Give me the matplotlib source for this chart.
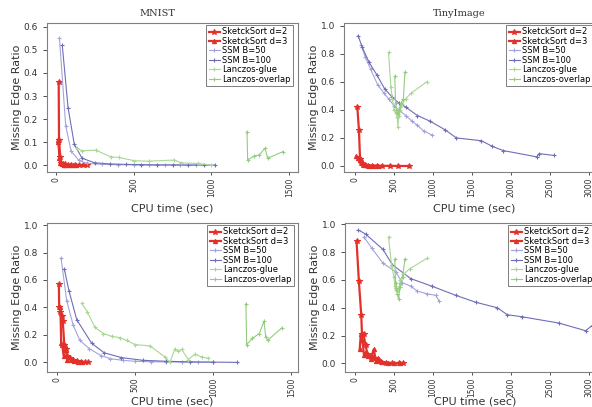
import matplotlib
matplotlib.use("Agg")
import matplotlib.pyplot as plt

# ---- MNIST, first run (top left) ----
mn1_ss2_x = [20, 22, 30, 35, 45, 60, 80, 100, 125, 150, 175, 200]
mn1_ss2_y = [0.36, 0.11, 0.035, 0.01, 0.005, 0.003, 0.002, 0.001, 0.001, 0.0, 0.0, 0.0]
mn1_ss3_x = [15, 18, 25, 30, 40, 55, 70, 90, 110, 130]
mn1_ss3_y = [0.11, 0.10, 0.03, 0.008, 0.004, 0.002, 0.001, 0.0, 0.0, 0.0]
mn1_b50_x = [25, 65, 100, 150, 200, 300, 400, 500, 600, 700, 800, 900]
mn1_b50_y = [0.55, 0.17, 0.06, 0.02, 0.008, 0.003, 0.002, 0.001, 0.0, 0.0, 0.0, 0.0]
mn1_b100_x = [43, 80, 120, 170, 250, 350, 450, 550, 650, 750, 850, 950, 1020]
mn1_b100_y = [0.52, 0.25, 0.09, 0.03, 0.01, 0.005, 0.003, 0.002, 0.001, 0.001, 0.0, 0.0, 0.0]
mn1_glue_x = [139, 171, 257, 354, 407, 504, 600, 761, 804, 911, 1000]
mn1_glue_y = [0.073, 0.062, 0.065, 0.036, 0.033, 0.019, 0.017, 0.022, 0.01, 0.007, 0.0]
mn1_ovl_x = [1228, 1232, 1275, 1307, 1343, 1361, 1457]
mn1_ovl_y = [0.145, 0.022, 0.04, 0.044, 0.073, 0.03, 0.058]

# ---- TinyImage, first run (top right) ----
ti1_ss2_x = [30, 50, 65, 80, 100, 130, 170, 220, 280, 350, 450, 550, 690]
ti1_ss2_y = [0.42, 0.26, 0.05, 0.02, 0.01, 0.005, 0.003, 0.002, 0.002, 0.001, 0.001, 0.0, 0.0]
ti1_ss3_x = [18, 40, 60, 75, 90, 110, 140, 180, 230, 300]
ti1_ss3_y = [0.07, 0.06, 0.04, 0.05, 0.02, 0.01, 0.005, 0.002, 0.001, 0.0]
ti1_b50_x = [80, 130, 200, 290, 370, 430, 500, 560, 650, 730, 800, 880, 990]
ti1_b50_y = [0.86, 0.78, 0.69, 0.58, 0.52, 0.48, 0.43, 0.40, 0.36, 0.32, 0.29, 0.25, 0.22]
ti1_b100_x = [40, 90, 180, 280, 380, 480, 560, 650, 800, 960, 1150, 1300, 1620, 1760, 1900, 2330, 2360, 2550]
ti1_b100_y = [0.93, 0.85, 0.74, 0.65, 0.55, 0.49, 0.45, 0.42, 0.36, 0.32, 0.26, 0.20, 0.18, 0.14, 0.11, 0.065, 0.088, 0.075]
ti1_glue_x = [430, 460, 480, 500, 520, 540, 550, 560, 580, 600, 650, 720, 920]
ti1_glue_y = [0.81, 0.56, 0.48, 0.40, 0.38, 0.35, 0.28, 0.36, 0.40, 0.44, 0.48, 0.52, 0.60]
ti1_ovl_x = [510, 520, 530, 545, 560, 575, 590, 620, 640]
ti1_ovl_y = [0.64, 0.45, 0.40, 0.37, 0.39, 0.42, 0.45, 0.48, 0.67]

# ---- MNIST, second run (bottom left) ----
mn2_ss2_x = [10, 12, 20, 28, 35, 45, 55, 65, 80, 100, 125, 150, 175, 195]
mn2_ss2_y = [0.57, 0.40, 0.37, 0.34, 0.30, 0.13, 0.10, 0.05, 0.03, 0.02, 0.01, 0.005, 0.002, 0.0]
mn2_ss3_x = [20, 25, 32, 40, 48, 55, 65, 75, 90, 110, 130, 160]
mn2_ss3_y = [0.40, 0.14, 0.13, 0.05, 0.13, 0.09, 0.02, 0.04, 0.02, 0.01, 0.005, 0.0]
mn2_b50_x = [24, 60, 102, 145, 205, 280, 340, 420, 500, 600, 700, 800, 900, 1000]
mn2_b50_y = [0.76, 0.45, 0.27, 0.16, 0.10, 0.05, 0.027, 0.015, 0.008, 0.005, 0.003, 0.002, 0.001, 0.0]
mn2_b100_x = [45, 75, 125, 220, 300, 410, 550, 700, 850, 1000, 1150]
mn2_b100_y = [0.68, 0.52, 0.31, 0.14, 0.07, 0.035, 0.015, 0.008, 0.004, 0.002, 0.0]
mn2_glue_x = [156, 192, 241, 295, 348, 402, 444, 498, 594, 690, 722, 754, 775, 797, 840, 882, 925, 968]
mn2_glue_y = [0.43, 0.37, 0.255, 0.21, 0.19, 0.18, 0.16, 0.13, 0.12, 0.04, 0.0, 0.10, 0.08, 0.095, 0.02, 0.06, 0.04, 0.03]
mn2_ovl_x = [1209, 1214, 1250, 1295, 1325, 1336, 1348, 1438]
mn2_ovl_y = [0.425, 0.13, 0.175, 0.21, 0.30, 0.185, 0.16, 0.25]

# ---- TinyImage, second run (bottom right) ----
ti2_ss2_x = [20, 50, 80, 90, 110, 135, 160, 200, 240, 280, 330, 400, 480, 560, 620]
ti2_ss2_y = [0.88, 0.59, 0.35, 0.21, 0.21, 0.13, 0.07, 0.05, 0.04, 0.02, 0.01, 0.005, 0.003, 0.002, 0.0]
ti2_ss3_x = [60, 75, 95, 115, 140, 170, 200, 240, 270, 300, 350, 420, 500, 580]
ti2_ss3_y = [0.10, 0.21, 0.17, 0.06, 0.08, 0.05, 0.03, 0.10, 0.02, 0.04, 0.01, 0.0, 0.0, 0.005]
ti2_b50_x = [115, 214, 359, 521, 607, 714, 799, 927, 1034, 1077]
ti2_b50_y = [0.91, 0.83, 0.72, 0.66, 0.58, 0.556, 0.52, 0.50, 0.49, 0.45]
ti2_b100_x = [43, 137, 359, 479, 714, 983, 1290, 1547, 1825, 1953, 2145, 2615, 2957, 3034]
ti2_b100_y = [0.96, 0.93, 0.82, 0.71, 0.61, 0.556, 0.49, 0.44, 0.40, 0.35, 0.335, 0.29, 0.235, 0.27]
ti2_glue_x = [430, 470, 500, 510, 520, 535, 550, 565, 580, 620, 700, 920]
ti2_glue_y = [0.91, 0.70, 0.62, 0.56, 0.53, 0.52, 0.53, 0.55, 0.60, 0.64, 0.68, 0.755]
ti2_ovl_x = [510, 520, 530, 545, 560, 575, 590, 610, 640]
ti2_ovl_y = [0.75, 0.58, 0.54, 0.50, 0.46, 0.55, 0.58, 0.62, 0.75]

LABELS = ["SketckSort d=2", "SketckSort d=3", "SSM B=50", "SSM B=100",
          "Lanczos-glue", "Lanczos-overlap"]
RED = "#e2302a"
STYLES = [
    dict(color=RED, lw=1.6, marker="*", ms=4),
    dict(color=RED, lw=1.6, marker="^", ms=3),
    dict(color="#a4a4dc", lw=0.8, marker="+", ms=3),
    dict(color="#6e6eb8", lw=0.8, marker="+", ms=3),
    dict(color="#a8d894", lw=0.8, marker="+", ms=3),
    dict(color="#94cc80", lw=0.8, marker="+", ms=3),
]

W, H = 592, 407
fig = plt.figure(figsize=(W / 100, H / 100), dpi=100)
GRAY = "#808080"
TXT = "#333333"


def px_axes(left, top, right, bottom):
    return fig.add_axes([left / W, 1 - bottom / H, (right - left) / W, (bottom - top) / H])


panels = [
    # (box px, xlim, ylim, yticks, xticks, series, legend anchor px, xlabel y px)
    ((47, 23, 298, 172), (-55, 1555), (-0.03, 0.617), [0, 0.1, 0.2, 0.3, 0.4, 0.5, 0.6],
     [0, 500, 1000, 1500],
     [(mn1_ss2_x, mn1_ss2_y), (mn1_ss3_x, mn1_ss3_y), (mn1_b50_x, mn1_b50_y),
      (mn1_b100_x, mn1_b100_y), (mn1_glue_x, mn1_glue_y), (mn1_ovl_x, mn1_ovl_y)],
     (206, 25), 209),
    ((344, 23, 605, 172), (-141, 3205), (-0.043, 1.02), [0, 0.2, 0.4, 0.6, 0.8, 1.0],
     [0, 500, 1000, 1500, 2000, 2500, 3000],
     [(ti1_ss2_x, ti1_ss2_y), (ti1_ss3_x, ti1_ss3_y), (ti1_b50_x, ti1_b50_y),
      (ti1_b100_x, ti1_b100_y), (ti1_glue_x, ti1_glue_y), (ti1_ovl_x, ti1_ovl_y)],
     (506, 25), 209),
    ((47, 223, 298, 372), (-66, 1543), (-0.07, 1.015), [0, 0.2, 0.4, 0.6, 0.8, 1.0],
     [0, 500, 1000, 1500],
     [(mn2_ss2_x, mn2_ss2_y), (mn2_ss3_x, mn2_ss3_y), (mn2_b50_x, mn2_b50_y),
      (mn2_b100_x, mn2_b100_y), (mn2_glue_x, mn2_glue_y), (mn2_ovl_x, mn2_ovl_y)],
     (207, 225), 401),
    ((345, 223, 605, 372), (-128, 3205), (-0.062, 1.01), [0, 0.2, 0.4, 0.6, 0.8, 1.0],
     [0, 500, 1000, 1500, 2000, 2500, 3000],
     [(ti2_ss2_x, ti2_ss2_y), (ti2_ss3_x, ti2_ss3_y), (ti2_b50_x, ti2_b50_y),
      (ti2_b100_x, ti2_b100_y), (ti2_glue_x, ti2_glue_y), (ti2_ovl_x, ti2_ovl_y)],
     (508, 225), 401),
]

for box, xlim, ylim, yticks, xticks, series, leg_at, xlab_y in panels:
    ax = px_axes(*box)
    for (xs, ys), label, st in zip(series, LABELS, STYLES):
        ax.plot(xs, ys, label=label, mew=0.8, **st)
    ax.set_xlim(*xlim)
    ax.set_ylim(*ylim)
    ax.set_xticks(xticks)
    ax.set_yticks(yticks)
    ax.set_yticklabels([f"{v:.1f}" for v in yticks])
    ax.tick_params(axis="x", labelrotation=90, labelsize=5.5, colors=TXT, length=2.5,
                   width=0.6, pad=1.5)
    ax.tick_params(axis="y", labelsize=6.5, colors=TXT, length=3, width=0.6)
    for sp in ax.spines.values():
        sp.set_color(GRAY)
        sp.set_linewidth(0.8)
    ax.set_ylabel("Missing Edge Ratio", fontsize=8, color=TXT, labelpad=1)
    ax.set_xlabel("CPU time (sec)", fontsize=8, color=TXT, va="center")
    ax.xaxis.set_label_coords(0.5, (box[3] - xlab_y) / (box[3] - box[1]))
    leg = ax.legend(loc="upper left", bbox_to_anchor=(leg_at[0] / W, 1 - leg_at[1] / H),
                    bbox_transform=fig.transFigure, fontsize=6, frameon=True, fancybox=False,
                    handlelength=1.4, handletextpad=0.2, borderpad=0.3, labelspacing=0.05,
                    borderaxespad=0)
    leg.get_frame().set_edgecolor("#444444")
    leg.get_frame().set_linewidth(0.6)

fig.text(157 / W, 1 - 14 / H, "MNIST", ha="center", va="center", fontsize=7,
         family="DejaVu Serif", color=TXT)
fig.text(459 / W, 1 - 14 / H, "TinyImage", ha="center", va="center", fontsize=7,
         family="DejaVu Serif", color=TXT)

fig.savefig("out.png", dpi=100)
